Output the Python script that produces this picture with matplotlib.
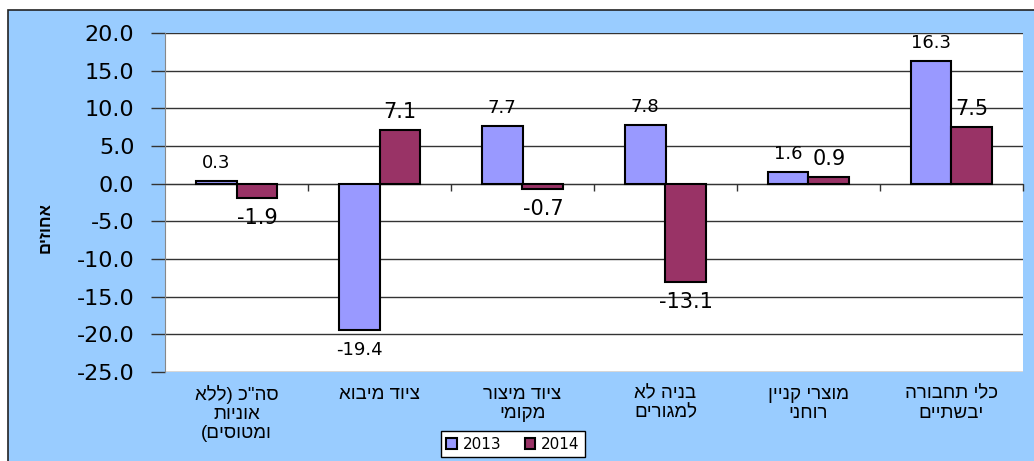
import numpy as np
import matplotlib
matplotlib.use("Agg")
import matplotlib.pyplot as plt
from matplotlib.patches import Rectangle
from matplotlib.transforms import blended_transform_factory

categories = [
    'סה"כ (ללא\nאוניות\nומטוסים)',
    "ציוד מיבוא",
    "ציוד מיצור\nמקומי",
    "בניה לא\nלמגורים",
    "מוצרי קניין\nרוחני",
    "כלי תחבורה\nיבשתיים",
]
values_2013 = [0.3, -19.4, 7.7, 7.8, 1.6, 16.3]
values_2014 = [-1.9, 7.1, -0.7, -13.1, 0.9, 7.5]
series_names = ["2013", "2014"]
y_ticks = [20, 15, 10, 5, 0, -5, -10, -15, -20, -25]
y_label = "אחוזים"

HEB = ["Liberation Sans", "DejaVu Sans"]


def visual(text):
    # matplotlib has no bidi: reverse each line, mirror brackets
    swap = {"(": ")", ")": "("}
    lines = []
    for line in text.split("\n"):
        lines.append("".join(swap.get(c, c) for c in reversed(line)))
    return "\n".join(lines)


fig = plt.figure(figsize=(10.34, 4.61), dpi=100)
fig.patch.set_facecolor("white")
fig.patches.append(Rectangle((8 / 1034, -0.01), 1.0, 1 - 10 / 461 + 0.01,
                             transform=fig.transFigure, facecolor="#99CCFF",
                             edgecolor="#222222", linewidth=1.2, zorder=-10))

ax = fig.add_axes([165 / 1034, 1 - 372 / 461, (1023 - 165) / 1034, (372 - 33) / 461])
ax.set_facecolor("white")

x = np.arange(len(categories))
w = 0.286
b1 = ax.bar(x - w / 2, values_2013, w, color="#9999FF", edgecolor="black",
            linewidth=1.5, label=series_names[0], zorder=3)
b2 = ax.bar(x + w / 2, values_2014, w, color="#993366", edgecolor="black",
            linewidth=1.5, label=series_names[1], zorder=3)

# data labels (2014 ones are drawn a little larger in the original)
for xs, vals, fs in [(x - w / 2, values_2013, 13), (x + w / 2, values_2014, 15)]:
    for xi, v in zip(xs, vals):
        off = 18 if v >= 0 else -20
        ax.annotate(f"{v:.1f}", (xi, v), xytext=(0, off), textcoords="offset pixels",
                    ha="center", va="center", fontsize=fs, family="DejaVu Sans",
                    zorder=4)

ax.set_ylim(-25, 20)
ax.set_xlim(-0.5, len(categories) - 0.5)
ax.set_yticks(y_ticks)
ax.set_yticklabels([f"{v:.1f}" for v in y_ticks], fontsize=16, family="DejaVu Sans")
ax.tick_params(axis="y", direction="out", length=10, width=1, pad=12, color="#333333")
ax.grid(axis="y", color="#333333", linewidth=1, zorder=1)

for s in ["top", "right"]:
    ax.spines[s].set_visible(False)
ax.spines["left"].set_color("#888888")
ax.spines["bottom"].set_position(("data", 0))
ax.spines["bottom"].set_color("#333333")
ax.set_xticks(np.arange(0.5, len(categories), 1.0))
ax.set_xticklabels([])
ax.tick_params(axis="x", direction="out", length=5, width=1, color="#333333")

# category labels under the plot area
trans = blended_transform_factory(ax.transData, ax.transAxes)
for xi, cat in zip(x, categories):
    ax.text(xi, -0.04, visual(cat), transform=trans, ha="center", va="top",
            fontsize=13.5, family=HEB, linespacing=1.15)

fig.text(45 / 1034, 1 - 227 / 461, visual(y_label), rotation=90, ha="center",
         va="center", fontsize=12, fontweight="bold", family=HEB)

leg = fig.legend(handles=[b1, b2], labels=series_names, loc="center",
                 bbox_to_anchor=(513 / 1034, 1 - 444 / 461), ncol=2, fontsize=11,
                 frameon=True, fancybox=False, edgecolor="black", framealpha=1,
                 handlelength=0.7, handleheight=0.7, handletextpad=0.4,
                 columnspacing=1.5, borderpad=0.35)
leg.get_frame().set_linewidth(1)

fig.savefig("out.png", dpi=100)
